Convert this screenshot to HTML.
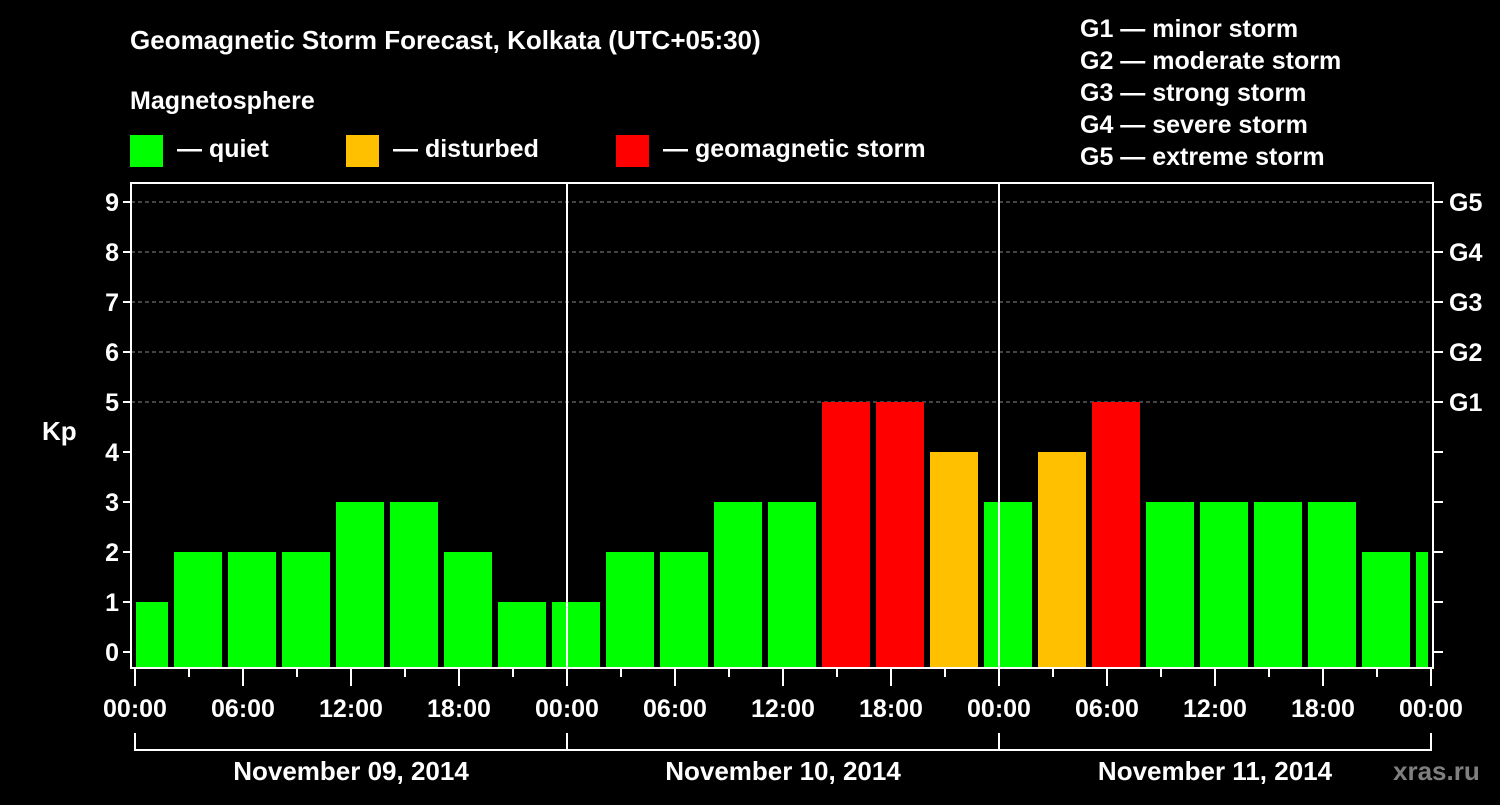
<!DOCTYPE html>
<html><head><meta charset="utf-8"><style>
body{margin:0;background:#000;width:1500px;height:800px;overflow:hidden}
svg text{font-family:"Liberation Sans",Arial,sans-serif;font-weight:bold;fill:#fff}
</style></head><body>
<svg width="1500" height="800" xmlns="http://www.w3.org/2000/svg" id="chart">
<text x="130" y="49" font-size="26">Geomagnetic Storm Forecast, Kolkata (UTC+05:30)</text>
<text x="130" y="109" font-size="25">Magnetosphere</text>
<g>
<rect x="130" y="135" width="33" height="32" fill="#00ff00"/>
<text x="177" y="157" font-size="25">— quiet</text>
<rect x="346" y="135" width="33" height="32" fill="#ffc000"/>
<text x="393" y="157" font-size="25">— disturbed</text>
<rect x="616" y="135" width="33" height="32" fill="#ff0000"/>
<text x="663" y="157" font-size="25">— geomagnetic storm</text>
</g>
<g font-size="25">
<text x="1080" y="37">G1 — minor storm</text>
<text x="1080" y="69">G2 — moderate storm</text>
<text x="1080" y="101">G3 — strong storm</text>
<text x="1080" y="133">G4 — severe storm</text>
<text x="1080" y="165">G5 — extreme storm</text>
</g>
<text x="42" y="440" font-size="26">Kp</text>
<text x="1393" y="780" font-size="26" fill="#888" style="fill:#7f7f7f">xras.ru</text>
<g id="grid"></g><g id="bars"></g><g id="axes"></g>
</svg>
<script>
const kpValues=[1,2,2,2,3,3,2,1,1,2,2,3,3,5,5,4,3,4,5,3,3,3,3,2,2];
const yTicks=[0,1,2,3,4,5,6,7,8,9];
const gLabels=["","","","","","G1","G2","G3","G4","G5"];
const xTickLabels=["00:00","06:00","12:00","18:00","00:00","06:00","12:00","18:00","00:00","06:00","12:00","18:00","00:00"];
const dayLabels=["November 09, 2014","November 10, 2014","November 11, 2014"];
const firstSlotHour=-1, slotHours=3;
const L=131,R=1433,T=183,B=668,X0=135,PXH=18;
const xs=h=>X0+h*PXH, ys=v=>652-50*v;
const NS="http://www.w3.org/2000/svg";
function mk(p,tag,a){const e=document.createElementNS(NS,tag);for(const k in a)e.setAttribute(k,a[k]);p.appendChild(e);return e;}
const grid=document.getElementById('grid'),bars=document.getElementById('bars'),axes=document.getElementById('axes');
yTicks.forEach(v=>{if(v>=5){const l=mk(grid,'line',{x1:L,x2:R,y1:ys(v),y2:ys(v),stroke:'#888','stroke-dasharray':'4,3','stroke-width':1});

}});
kpValues.forEach((v,i)=>{
 const h0=firstSlotHour+slotHours*i;
 let x1=xs(h0)+3,x2=xs(h0+slotHours)-3;
 x1=Math.max(x1,L+5);x2=Math.min(x2,R-5);
 const c=v>=5?'#ff0000':(v>=4?'#ffc000':'#00ff00');
 const r=mk(bars,'rect',{x:x1,y:ys(v),width:x2-x1,height:B-1-ys(v),fill:c});
 
 
});
const fr=mk(axes,'rect',{x:L,y:T,width:R-L,height:B-T,fill:'none',stroke:'#fff','stroke-width':2});


[1,2].forEach(d=>{const l=mk(axes,'line',{x1:xs(24*d),x2:xs(24*d),y1:T,y2:B,stroke:'#fff','stroke-width':2});

});
yTicks.forEach(v=>{
 mk(axes,'line',{x1:L-8,x2:L,y1:ys(v),y2:ys(v),stroke:'#fff','stroke-width':2});
 const t=mk(axes,'text',{x:L-12,y:ys(v)+9,'font-size':25,'text-anchor':'end'});t.textContent=v;
 
 
 mk(axes,'line',{x1:R,x2:R+10,y1:ys(v),y2:ys(v),stroke:'#fff','stroke-width':2});
 if(gLabels[v]){const g=mk(axes,'text',{x:R+16,y:ys(v)+9,'font-size':25});g.textContent=gLabels[v];
 
 }
});
for(let h=0;h<=72;h+=3){const major=h%6===0;
 mk(axes,'line',{x1:xs(h),x2:xs(h),y1:B,y2:major?686:677,stroke:'#fff','stroke-width':2});}
xTickLabels.forEach((s,i)=>{const t=mk(axes,'text',{x:xs(6*i),y:717,'font-size':25,'text-anchor':'middle'});t.textContent=s;
 
 });
dayLabels.forEach((s,d)=>{
 const a=xs(24*d),b=xs(24*d+24);
 mk(axes,'path',{d:`M${a},733V750H${b}V733`,fill:'none',stroke:'#fff','stroke-width':2});
 const t=mk(axes,'text',{x:(a+b)/2,y:780,'font-size':26,'text-anchor':'middle'});t.textContent=s;
 
 
});
</script>
</body></html>
